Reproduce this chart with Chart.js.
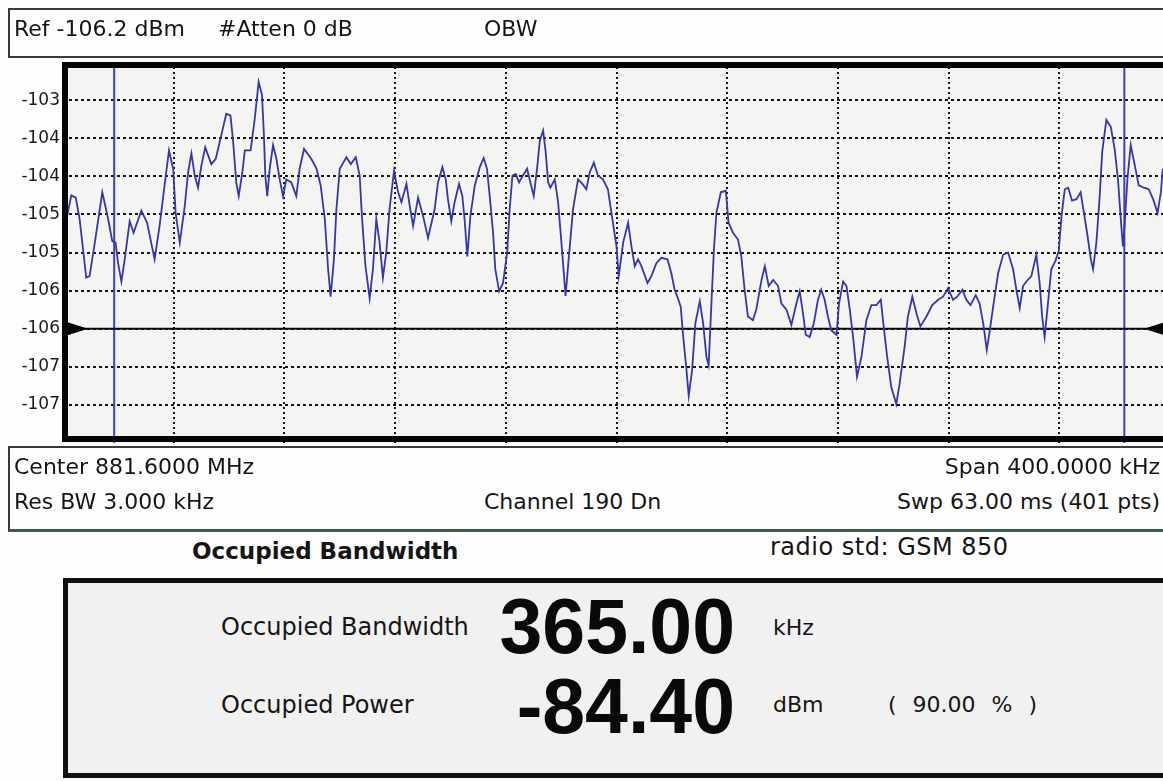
<!DOCTYPE html>
<html>
<head>
<meta charset="utf-8">
<title>Occupied Bandwidth</title>
<script src="https://cdn.jsdelivr.net/npm/chart.js@4.4.0/dist/chart.umd.min.js"></script>
<style>
    html, body {
        margin: 0;
        padding: 0;
        background: #fdfdfd;
    }
    body {
        position: relative;
        width: 1163px;
        height: 781px;
        overflow: hidden;
        font-family: "DejaVu Sans", sans-serif;
        color: #151515;
    }
    .box {
        position: absolute;
        box-sizing: border-box;
    }
    #header-box {
        left: 8px;
        top: 8px;
        width: 1170px;
        height: 50px;
        border: 2px solid #3a3a3a;
        background: #fdfdfd;
    }
    #info-box {
        left: 8px;
        top: 446px;
        width: 1170px;
        height: 86px;
        border: 2px solid #3a3a3a;
        border-bottom: 3px solid #3f5a48;
        background: #fdfdfd;
    }
    #result-box {
        left: 63px;
        top: 578px;
        width: 1110px;
        height: 200px;
        border: 5px solid #111;
        background: #f1f1f1;
    }
    #trace {
        position: absolute;
        left: 0;
        top: 0;
    }
    .t {
        position: absolute;
        white-space: nowrap;
        line-height: 1;
        font-size: 22px;
    }
    .big {
        font-family: "Liberation Sans", sans-serif;
        font-weight: bold;
        font-size: 77px;
        color: #0a0a0a;
    }
</style>
</head>
<body>
<div class="box" id="header-box"></div>
<div class="box" id="info-box"></div>
<div class="box" id="result-box"></div>

<canvas id="trace" width="1180" height="460"></canvas>

<!-- Kopfzeile -->
<div class="t" style="left:14px; top:18px;">Ref -106.2 dBm</div>
<div class="t" style="left:218px; top:18px;">#Atten 0 dB</div>
<div class="t" style="left:484px; top:18px;">OBW</div>

<!-- Einstellungen unter dem Diagramm -->
<div class="t" style="left:14px; top:456px;">Center 881.6000 MHz</div>
<div class="t" style="right:3px; top:456px;">Span 400.0000 kHz</div>
<div class="t" style="left:14px; top:491px;">Res BW 3.000 kHz</div>
<div class="t" style="left:484px; top:491px;">Channel 190 Dn</div>
<div class="t" style="right:3px; top:491px;">Swp 63.00 ms (401 pts)</div>

<!-- Messergebnis -->
<div class="t" style="left:192px; top:540px; font-size:23px; font-weight:bold;">Occupied Bandwidth</div>
<div class="t" style="left:770px; top:535px; font-size:24px; letter-spacing:0.5px;">radio std: GSM 850</div>

<div class="t" style="left:221px; top:615px; font-size:24px;">Occupied Bandwidth</div>
<div class="t big" style="right:428px; top:588px;">365.00</div>
<div class="t" style="left:773px; top:617px;">kHz</div>

<div class="t" style="left:221px; top:693px; font-size:24px;">Occupied Power</div>
<div class="t big" style="right:428px; top:668px;">-84.40</div>
<div class="t" style="left:773px; top:694px;">dBm</div>
<div class="t" style="left:888px; top:694px; word-spacing:9px;">( 90.00 % )</div>

<script>
// Frequency offset from center (kHz) and measured level (dBm) of each trace vertex.
var traceOffsetKHz = [
    -198.5, -197.0, -195.4, -194.0, -191.6, -190.4, -188.5, -185.8, -183.7, -182.2,
    -181.0, -180.1, -178.9, -177.7, -175.9, -174.5, -171.7, -169.6, -166.9, -165.1,
    -163.3, -161.7, -160.2, -159.3, -157.8, -156.0, -154.8, -153.6, -152.4, -151.2,
    -150.0, -148.6, -146.4, -144.8, -142.8, -141.0, -139.5, -138.6, -137.4, -136.5,
    -135.2, -134.3, -132.2, -130.7, -129.3, -128.1, -127.4, -126.9, -126.2, -125.3,
    -124.1, -122.9, -121.7, -120.5, -119.3, -117.5, -115.7, -114.5, -112.9, -110.3,
    -108.4, -106.9, -105.4, -104.2, -103.3, -102.1, -101.2, -100.0, -97.6, -96.0,
    -94.2, -92.8, -92.0, -90.7, -89.2, -88.0, -86.8, -85.6, -84.4, -83.2,
    -82.0, -80.4, -78.9, -77.7, -75.9, -74.7, -73.5, -71.7, -69.9, -68.1,
    -65.7, -64.5, -62.9, -61.7, -60.9, -59.7, -58.5, -56.9, -55.7, -54.9,
    -53.9, -52.8, -51.2, -49.4, -48.0, -46.8, -45.6, -44.6, -43.8, -42.4,
    -41.0, -39.5, -38.6, -37.6, -36.4, -35.2, -33.8, -32.3, -31.4, -29.9,
    -28.7, -27.7, -26.5, -25.6, -24.7, -23.9, -22.3, -21.1, -19.9, -18.4,
    -17.2, -15.7, -13.9, -12.3, -10.9, -9.7, -8.2, -6.7, -4.9, -3.1,
    -1.5, 0.0, 0.8, 2.4, 4.2, 5.4, 6.6, 7.8, 9.0, 11.2,
    12.6, 14.4, 16.2, 18.4, 19.8, 21.0, 22.0, 23.2, 24.0, 25.3,
    26.1, 27.3, 28.5, 30.1, 31.3, 32.5, 33.3, 34.3, 35.2, 36.1,
    37.7, 39.5, 40.5, 42.1, 43.9, 45.1, 46.3, 47.5, 49.3, 50.5,
    52.4, 53.6, 55.0, 56.6, 58.4, 59.6, 61.4, 63.2, 65.0, 66.2,
    67.2, 68.4, 69.8, 71.3, 72.8, 74.0, 75.2, 76.4, 77.6, 79.5,
    80.4, 81.9, 83.1, 84.3, 85.5, 86.9, 88.5, 90.3, 92.1, 93.9,
    95.5, 96.3, 97.8, 99.3, 101.1, 102.3, 104.1, 105.3, 106.9, 108.4,
    109.8, 112.0, 114.1, 116.2, 118.0, 119.8, 121.6, 123.1, 125.0, 126.4,
    127.9, 129.8, 131.2, 132.5, 133.8, 134.9, 136.1, 137.9, 139.7, 141.5,
    143.3, 144.5, 145.7, 146.9, 148.1, 149.9, 151.7, 152.9, 153.8, 154.7,
    155.9, 157.1, 158.6, 159.8, 160.8, 162.0, 163.2, 164.6, 166.2, 167.7,
    168.9, 170.2, 171.4, 172.2, 173.4, 174.6, 175.5, 177.0, 178.6, 180.0,
    181.2, 182.4, 183.0, 183.6, 184.6, 185.8, 187.3, 188.7, 190.6, 192.3,
    193.9, 195.5, 196.7, 197.4
];

var traceLevelDbm = [
    -104.52, -104.25, -104.28, -104.56, -105.33, -105.31, -104.87, -104.21, -104.56, -104.85,
    -104.87, -105.14, -105.38, -105.09, -104.59, -104.74, -104.45, -104.61, -105.09, -104.65,
    -104.12, -103.66, -103.90, -104.48, -104.87, -104.39, -103.95, -103.70, -103.99, -104.15,
    -103.86, -103.62, -103.84, -103.77, -103.46, -103.18, -103.20, -103.51, -104.08, -104.26,
    -103.95, -103.66, -103.66, -103.24, -102.76, -102.93, -103.46, -103.99, -104.26, -103.90,
    -103.59, -103.77, -104.04, -104.26, -104.04, -104.08, -104.26, -103.90, -103.64, -103.77,
    -103.90, -104.12, -104.56, -105.22, -105.58, -105.09, -104.43, -103.90, -103.75, -103.84,
    -103.75, -103.99, -104.52, -105.18, -105.60, -105.22, -104.56, -104.87, -105.33, -105.00,
    -104.43, -103.93, -104.21, -104.34, -104.10, -104.39, -104.65, -104.28, -104.52, -104.81,
    -104.43, -104.08, -103.88, -104.04, -104.30, -104.59, -104.34, -104.10, -104.26, -104.56,
    -105.05, -104.52, -104.12, -103.88, -103.76, -103.90, -104.34, -104.74, -105.22, -105.51,
    -105.40, -105.00, -104.43, -103.99, -103.97, -104.08, -103.99, -103.90, -104.04, -104.26,
    -103.90, -103.53, -103.40, -103.68, -104.08, -104.15, -104.04, -104.34, -104.87, -105.57,
    -105.05, -104.43, -104.04, -104.10, -104.17, -103.95, -103.82, -103.99, -104.04, -104.17,
    -104.56, -104.92, -105.31, -104.87, -104.61, -104.92, -105.18, -105.09, -105.18, -105.40,
    -105.31, -105.14, -105.07, -105.09, -105.27, -105.49, -105.58, -105.71, -106.06, -106.55,
    -106.88, -106.55, -105.93, -105.64, -105.93, -106.37, -106.48, -105.67, -104.96, -104.48,
    -104.21, -104.19, -104.61, -104.74, -104.83, -105.05, -105.49, -105.84, -105.89, -105.75,
    -105.36, -105.18, -105.44, -105.36, -105.44, -105.67, -105.75, -105.95, -105.67, -105.51,
    -105.75, -106.08, -106.11, -105.93, -105.62, -105.49, -105.62, -105.84, -106.02, -106.08,
    -105.67, -105.38, -105.44, -105.75, -106.11, -106.63, -106.37, -105.89, -105.69, -105.69,
    -105.62, -105.89, -106.37, -106.77, -106.99, -106.72, -106.24, -105.84, -105.58, -105.80,
    -105.97, -105.84, -105.69, -105.62, -105.58, -105.47, -105.62, -105.58, -105.49, -105.62,
    -105.69, -105.56, -105.67, -105.93, -106.28, -106.02, -105.71, -105.27, -105.03, -105.00,
    -105.22, -105.49, -105.73, -105.44, -105.38, -105.31, -105.03, -105.40, -105.84, -106.11,
    -105.67, -105.22, -105.11, -104.98, -104.52, -104.17, -104.15, -104.32, -104.30, -104.21,
    -104.48, -104.78, -105.09, -105.22, -104.87, -104.26, -103.68, -103.26, -103.35, -103.64,
    -104.04, -104.65, -104.92, -104.65, -104.04, -103.59, -103.86, -104.12, -104.15, -104.17,
    -104.30, -104.48, -104.21, -103.90
];

// Screen limits: 400 kHz span, 0.5 dB per division.
var spanKHz = [-200, 200];
var levelRangeDbm = [-107.5, -102.5];

// Vertical graticule every 40 kHz.
var xGridKHz = [-160, -120, -80, -40, 0, 40, 80, 120, 160];

// Horizontal graticule and its printed labels (rounded by the instrument).
var yTickValues = [-107.0, -106.5, -106.0, -105.5, -105.0, -104.5, -104.0, -103.5, -103.0];
var yTickLabels = ['-107', '-107', '-106', '-106', '-105', '-105', '-104', '-104', '-103'];

// OBW markers (kHz from center) and the display line (dBm).
var obwMarkersKHz = [-181.5, 183.5];
var displayLineDbm = -106.0;

(function () {
    function init() {
        var canvas = document.getElementById('trace');
        if (!canvas || typeof Chart === 'undefined') {
            return;
        }

        var tracePoints = traceOffsetKHz.map(function (f, i) {
            return { x: f, y: traceLevelDbm[i] };
        });

        // Eine senkrechte Linie pro Marker.
        var markerSets = obwMarkersKHz.map(function (f) {
            return {
                data: [{ x: f, y: levelRangeDbm[0] }, { x: f, y: levelRangeDbm[1] }],
                borderColor: '#3f3fc4',
                borderWidth: 2,
                pointRadius: 0,
                order: 2
            };
        });

        var datasets = [
            {
                data: tracePoints,
                borderColor: '#3636a8',
                borderWidth: 1.8,
                pointRadius: 0,
                tension: 0,
                order: 0
            },
            {
                data: [{ x: spanKHz[0], y: displayLineDbm }, { x: spanKHz[1], y: displayLineDbm }],
                borderColor: '#0a0a0a',
                borderWidth: 2,
                pointRadius: 0,
                order: 1
            }
        ].concat(markerSets);

        // Hintergrund, dicker Rahmen und Dreiecke an der Display-Linie.
        var screenPlugin = {
            id: 'screen',
            beforeDraw: function (chart) {
                var a = chart.chartArea;
                var ctx = chart.ctx;
                ctx.save();
                ctx.fillStyle = '#f4f4f2';
                ctx.fillRect(a.left, a.top, a.right - a.left, a.bottom - a.top);
                ctx.restore();
            },
            afterDraw: function (chart) {
                var a = chart.chartArea;
                var ctx = chart.ctx;
                var y = chart.scales.y.getPixelForValue(displayLineDbm);
                ctx.save();
                ctx.fillStyle = '#050505';
                ctx.beginPath();
                ctx.moveTo(a.left + 3, y - 7);
                ctx.lineTo(a.left + 25, y);
                ctx.lineTo(a.left + 3, y + 7);
                ctx.closePath();
                ctx.fill();
                ctx.beginPath();
                ctx.moveTo(a.right - 4, y - 7);
                ctx.lineTo(a.right - 26, y);
                ctx.lineTo(a.right - 4, y + 7);
                ctx.closePath();
                ctx.fill();

                ctx.strokeStyle = '#050505';
                ctx.lineWidth = 6;
                ctx.strokeRect(a.left + 2, a.top + 3, a.right - a.left - 5, a.bottom - a.top - 7);
                ctx.restore();
            }
        };

        new Chart(canvas.getContext('2d'), {
            type: 'line',
            data: { datasets: datasets },
            options: {
                responsive: false,
                maintainAspectRatio: false,
                animation: false,
                layout: {
                    padding: { left: 0, top: 62, right: 10, bottom: 17 }
                },
                plugins: {
                    legend: { display: false },
                    tooltip: { enabled: false }
                },
                scales: {
                    x: {
                        type: 'linear',
                        min: spanKHz[0],
                        max: spanKHz[1],
                        afterBuildTicks: function (scale) {
                            scale.ticks = xGridKHz.map(function (v) { return { value: v }; });
                        },
                        afterFit: function (scale) {
                            scale.height = 0;
                        },
                        ticks: { display: false },
                        grid: {
                            color: '#161616',
                            lineWidth: 2,
                            drawTicks: false
                        },
                        border: { display: false, dash: [2, 3] }
                    },
                    y: {
                        type: 'linear',
                        min: levelRangeDbm[0],
                        max: levelRangeDbm[1],
                        afterBuildTicks: function (scale) {
                            scale.ticks = yTickValues.map(function (v) { return { value: v }; });
                        },
                        afterFit: function (scale) {
                            scale.width = 63;
                        },
                        ticks: {
                            padding: 3,
                            color: '#1a1a1a',
                            font: { family: 'DejaVu Sans', size: 17 },
                            callback: function (value, index) {
                                return yTickLabels[index];
                            }
                        },
                        grid: {
                            color: '#161616',
                            lineWidth: 2,
                            drawTicks: false
                        },
                        border: { display: false, dash: [3, 3] }
                    }
                }
            },
            plugins: [screenPlugin]
        });
    }

    if (document.readyState === 'loading') {
        document.addEventListener('DOMContentLoaded', init);
    } else {
        init();
    }
})();
</script>
</body>
</html>
